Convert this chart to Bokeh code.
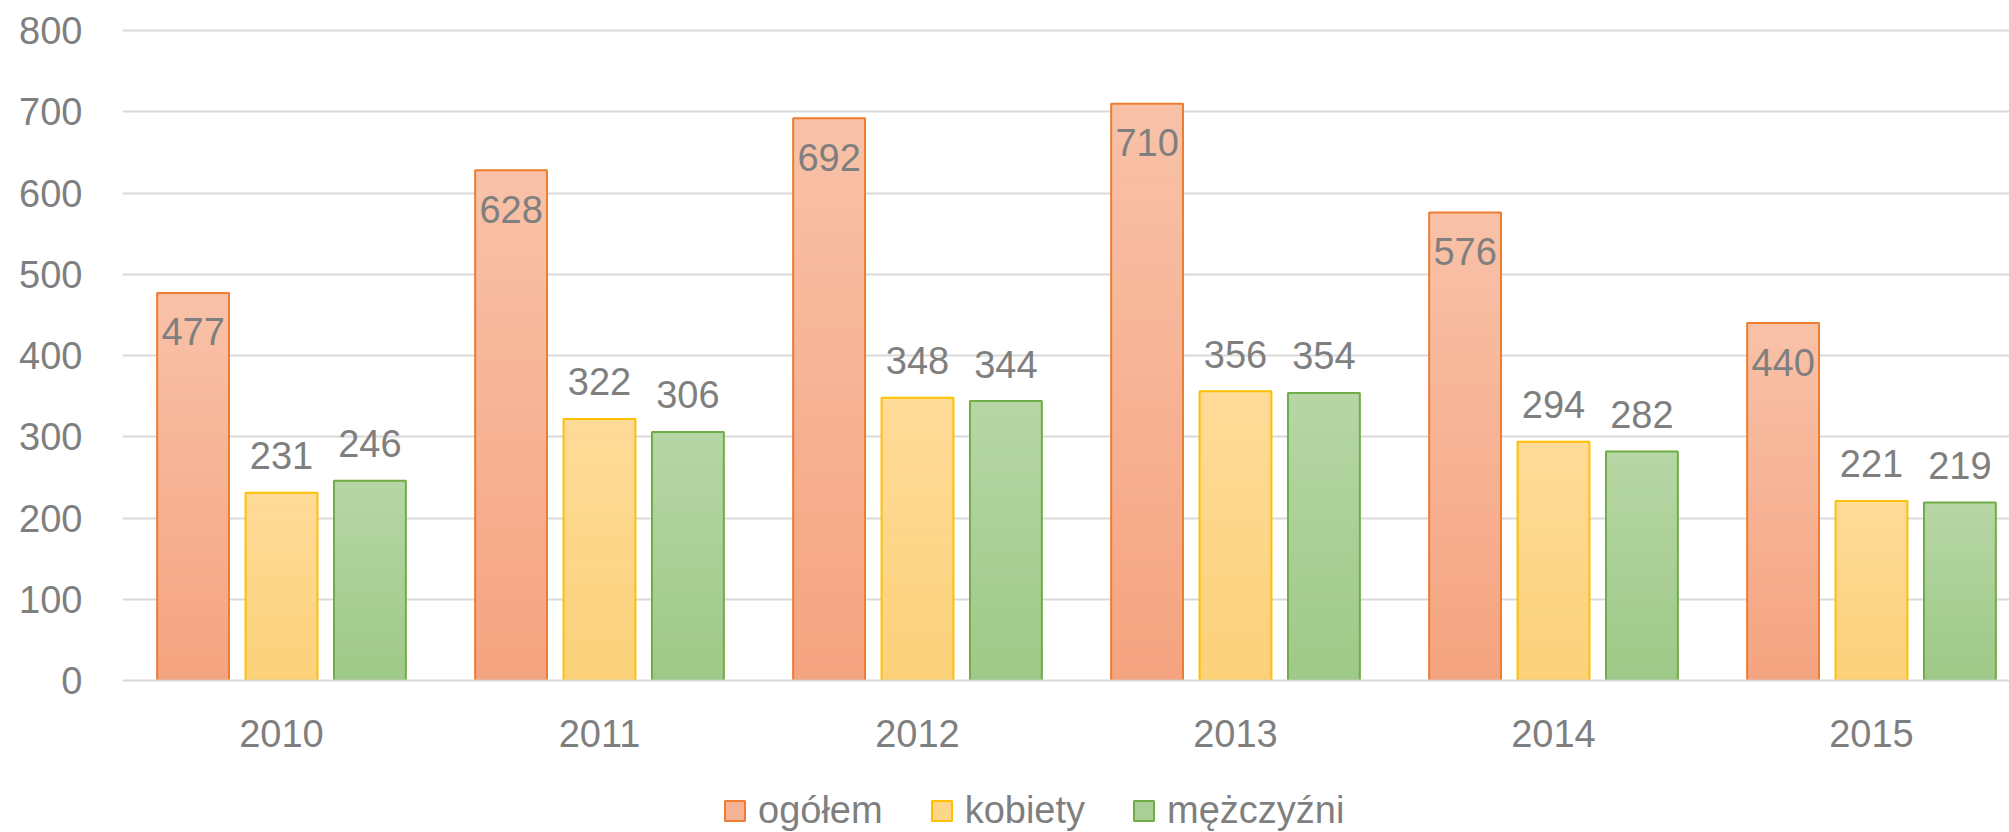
from bokeh.plotting import figure
from bokeh.models import Range1d, FixedTicker, ColumnDataSource, Legend, LegendItem
from bokeh.layouts import column
from bokeh.embed import file_html
from bokeh.resources import INLINE
from bokeh.core.properties import value

# ---- data ----
years = ["2010", "2011", "2012", "2013", "2014", "2015"]
series_names = ["ogółem", "kobiety", "mężczyźni"]
ogolem = [477, 628, 692, 710, 576, 440]
kobiety = [231, 322, 348, 356, 294, 221]
mezczyzni = [246, 306, 344, 354, 282, 219]
y_ticks = [0, 100, 200, 300, 400, 500, 600, 700, 800]

# ---- style ----
FONT = "Liberation Sans"
FS = "38px"
TXT = "#7F7F7F"
GRID = "#D9D9D9"
styles = [
    dict(line="#ED7D31", top=(248, 193, 168), bot=(245, 164, 128), mid="#F6B294", off=-0.278, lab="in"),
    dict(line="#FFC000", top=(254, 219, 152), bot=(252, 209, 122), mid="#FDD68A", off=0.0, lab="out"),
    dict(line="#70AD47", top=(183, 214, 166), bot=(158, 201, 135), mid="#AACF96", off=0.278, lab="out"),
]
BAR_W = 0.226
N_SLICES = 30

W, H = 2009, 832
H1 = 760
LEFT, TOP, BOTTOM = 122, 20, 680
px_per_cat = 318.0
frame_w = W - LEFT
p = figure(width=W, height=H1, output_backend="svg", toolbar_location=None,
           x_range=Range1d(-0.5, -0.5 + frame_w / px_per_cat),
           y_range=Range1d(0, 800 + 10 / 0.8125),
           min_border_left=LEFT, min_border_right=0, min_border_top=TOP,
           min_border_bottom=H1 - BOTTOM)
p.outline_line_color = None
p.background_fill_color = "white"
p.border_fill_color = "white"

# axes
p.yaxis.ticker = FixedTicker(ticks=y_ticks)
p.yaxis.axis_line_color = None
p.yaxis.major_tick_line_color = None
p.yaxis.minor_tick_line_color = None
p.yaxis.major_tick_out = 0
p.yaxis.major_tick_in = 0
p.yaxis.major_label_standoff = 40
p.yaxis.major_label_text_font = FONT
p.yaxis.major_label_text_font_size = FS
p.yaxis.major_label_text_color = TXT

p.xaxis.ticker = FixedTicker(ticks=list(range(len(years))))
p.xaxis.major_label_overrides = {i: y for i, y in enumerate(years)}
p.xaxis.axis_line_color = GRID
p.xaxis.axis_line_width = 2
p.xaxis.major_tick_line_color = None
p.xaxis.minor_tick_line_color = None
p.xaxis.major_tick_out = 0
p.xaxis.major_tick_in = 0
p.xaxis.major_label_standoff = 39
p.xaxis.major_label_text_font = FONT
p.xaxis.major_label_text_font_size = FS
p.xaxis.major_label_text_color = TXT

p.xgrid.grid_line_color = None
p.ygrid.ticker = FixedTicker(ticks=y_ticks)
p.ygrid.grid_line_color = GRID
p.ygrid.grid_line_width = 2

def mix(c1, c2, t):
    r, g, b = (round(c1[k] + (c2[k] - c1[k]) * t) for k in range(3))
    return "#%02X%02X%02X" % (r, g, b)

# legend figure (below the chart)
p2 = figure(width=W, height=H - H1, output_backend="svg", toolbar_location=None,
            x_range=Range1d(0, 1), y_range=Range1d(0, 1),
            min_border=0, min_border_left=0, min_border_right=0,
            min_border_top=0, min_border_bottom=0)
p2.axis.visible = False
p2.grid.visible = False
p2.outline_line_color = None
p2.background_fill_color = "white"
p2.border_fill_color = "white"

legend_items = []
for name, vals, st in zip(series_names, [ogolem, kobiety, mezczyzni], styles):
    xs = [i + st["off"] for i in range(len(vals))]
    full = ColumnDataSource(dict(x=xs, top=vals, lbl=[str(v) for v in vals]))
    # gradient slices
    sx, sb, stp, sc = [], [], [], []
    for x, v in zip(xs, vals):
        for k in range(N_SLICES):
            sx.append(x)
            sb.append(v * k / N_SLICES)
            stp.append(v * (k + 1) / N_SLICES)
            sc.append(mix(st["bot"], st["top"], (k + 0.5) / N_SLICES))
    p.vbar(x=sx, bottom=sb, top=stp, width=BAR_W, fill_color=sc, line_color=sc, line_width=1)
    p.vbar(x="x", top="top", width=BAR_W, source=full,
           fill_alpha=0, line_color=st["line"], line_width=2)
    yoff = 39 if st["lab"] == "in" else -37
    p.text(x="x", y="top", text="lbl", source=full, text_align="center", text_baseline="middle",
           y_offset=yoff, text_font=value(FONT), text_font_size=FS, text_color=TXT)
    # legend key renderer: a non-drawn (NaN) bar that only supplies the key's style
    r_leg = p2.vbar(x=[float("nan")], bottom=[float("nan")], top=[float("nan")], width=0.1,
                    fill_color=st["mid"], line_color=st["line"], line_width=2)
    legend_items.append(LegendItem(label=name, renderers=[r_leg]))

legend = Legend(items=legend_items, orientation="horizontal", location=(600, 0),
                glyph_width=25, glyph_height=25, label_standoff=11, spacing=46,
                padding=0, margin=0, border_line_color=None, background_fill_alpha=0,
                label_text_font=FONT, label_text_font_size=FS, label_text_color=TXT)
p2.add_layout(legend, "center")

layout = column(p, p2, spacing=0)
open("out.html", "w").write(file_html(layout, INLINE))
